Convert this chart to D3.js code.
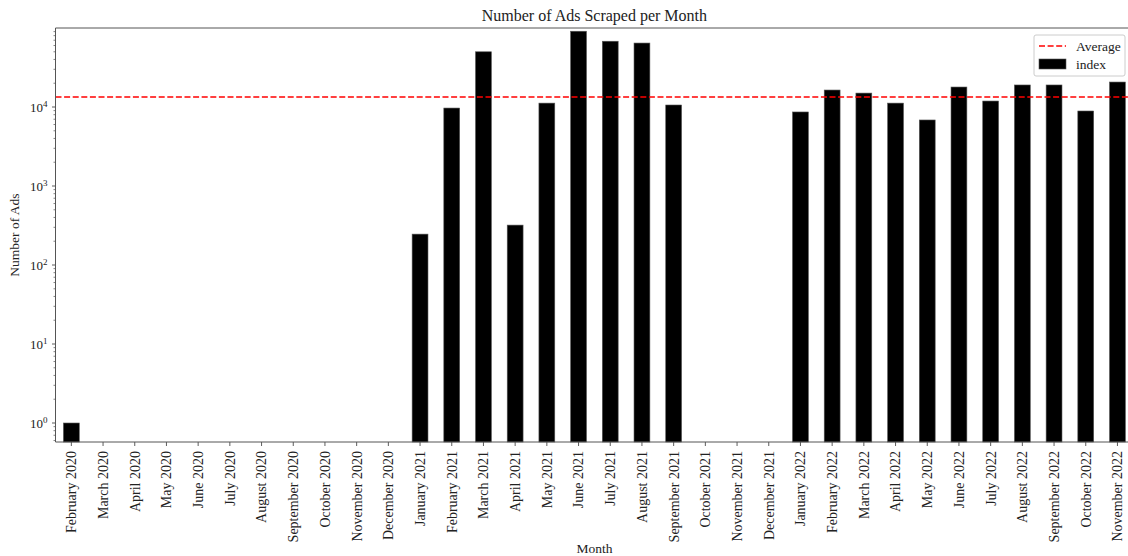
<!DOCTYPE html>
<html>
<head>
<meta charset="utf-8">
<script src="https://cdn.jsdelivr.net/npm/d3@7"></script>
<style>
  body { margin: 0; background: #fff; }
  text { font-family: 'Liberation Serif', serif; fill: #222; }
</style>
</head>
<body>
<div id="chart"></div>
<script>
const months = [
  'February 2020', 'March 2020', 'April 2020', 'May 2020', 'June 2020', 'July 2020',
  'August 2020', 'September 2020', 'October 2020', 'November 2020', 'December 2020',
  'January 2021', 'February 2021', 'March 2021', 'April 2021', 'May 2021', 'June 2021',
  'July 2021', 'August 2021', 'September 2021', 'October 2021', 'November 2021',
  'December 2021', 'January 2022', 'February 2022', 'March 2022', 'April 2022',
  'May 2022', 'June 2022', 'July 2022', 'August 2022', 'September 2022',
  'October 2022', 'November 2022'
]
const ads = [
  1, 0, 0, 0, 0, 0, 0, 0, 0, 0, 0,
  246, 9700, 50000, 320, 11200, 91000, 68000, 64500, 10600, 0, 0, 0,
  8650, 16400, 15000, 11200, 6850, 17900, 11900, 19000, 19000, 8900, 20700
]
const average = 13400
const yTicks = [1, 10, 100, 1000, 10000]

const margin = { top: 28, left: 55.5, right: -5.3, bottom: 114 }
const totalWidth = 1128
const totalHeight = 556
const width = totalWidth - margin.left - margin.right
const height = totalHeight - margin.top - margin.bottom

const svg = d3
  .select('#chart')
  .append('svg')
  .attr('width', totalWidth)
  .attr('height', totalHeight)

const g = svg
  .append('g')
  .attr('transform', 'translate(' + margin.left + ',' + margin.top + ')')

const xPositionScale = d3
  .scaleBand()
  .domain(months)
  .range([0, width])
  .paddingInner(0.5)
  .paddingOuter(0.25)

const yPositionScale = d3
  .scaleLog()
  .domain([0.575, 100000])
  .range([height, 0])

// bars (zero months are not drawn on a log axis)
g.selectAll('.bar')
  .data(months.map((m, i) => ({ month: m, value: ads[i] })).filter(d => d.value > 0))
  .enter()
  .append('rect')
  .attr('class', 'bar')
  .attr('x', d => xPositionScale(d.month))
  .attr('width', xPositionScale.bandwidth())
  .attr('y', d => yPositionScale(d.value))
  .attr('height', d => height - yPositionScale(d.value))
  .attr('fill', '#000')
  .attr('stroke', '#555')
  .attr('stroke-width', 0.6)

// average line
g.append('line')
  .attr('x1', 0)
  .attr('x2', width)
  .attr('y1', yPositionScale(average))
  .attr('y2', yPositionScale(average))
  .attr('stroke', '#ff0000')
  .attr('stroke-width', 1.6)
  .attr('stroke-dasharray', '6,2.6')

// y axis: major ticks with powers of ten, minor ticks in between
const minorTicks = []
for (let p = -1; p < 5; p++) {
  for (let k = 2; k <= 9; k++) {
    const v = k * Math.pow(10, p)
    if (v >= 0.575 && v <= 100000) minorTicks.push(v)
  }
}

const yAxis = g.append('g').attr('class', 'y-axis')

yAxis.selectAll('.minor')
  .data(minorTicks)
  .enter()
  .append('line')
  .attr('x1', -2)
  .attr('x2', 0)
  .attr('y1', d => yPositionScale(d))
  .attr('y2', d => yPositionScale(d))
  .attr('stroke', '#333')
  .attr('stroke-width', 0.6)

yAxis.selectAll('.major')
  .data(yTicks)
  .enter()
  .append('line')
  .attr('x1', -3.5)
  .attr('x2', 0)
  .attr('y1', d => yPositionScale(d))
  .attr('y2', d => yPositionScale(d))
  .attr('stroke', '#333')
  .attr('stroke-width', 0.8)

const yLabels = yAxis.selectAll('.ylabel')
  .data(yTicks)
  .enter()
  .append('text')
  .attr('x', -8)
  .attr('y', d => yPositionScale(d) + 4.5)
  .attr('text-anchor', 'end')
  .attr('font-size', 13)

yLabels.append('tspan').text('10')
yLabels.append('tspan')
  .attr('dy', -5)
  .attr('font-size', 9)
  .text(d => Math.round(Math.log10(d)))

// x axis
const xAxis = d3.axisBottom(xPositionScale).tickSize(4).tickSizeOuter(0)
g.append('g')
  .attr('class', 'x-axis')
  .attr('transform', 'translate(0,' + height + ')')
  .call(xAxis)
  .call(s => s.select('.domain').remove())
  .call(s => s.selectAll('line').attr('stroke', '#333').attr('stroke-width', 0.8))
  .selectAll('text')
  .attr('font-size', 14)
  .attr('font-family', 'Liberation Serif, serif')
  .attr('fill', '#222')
  .attr('text-anchor', 'end')
  .attr('transform', 'rotate(-90)')
  .attr('x', -9)
  .attr('y', 0)
  .attr('dy', '0.35em')

// spines
g.append('line')
  .attr('x1', 0).attr('x2', 0).attr('y1', 0).attr('y2', height)
  .attr('stroke', '#555').attr('stroke-width', 1)
g.append('line')
  .attr('x1', 0).attr('x2', width).attr('y1', 0).attr('y2', 0)
  .attr('stroke', '#555').attr('stroke-width', 1)
g.append('line')
  .attr('x1', 0).attr('x2', width).attr('y1', height).attr('y2', height)
  .attr('stroke', '#555').attr('stroke-width', 1)

// titles
svg.append('text')
  .attr('x', margin.left + width / 2)
  .attr('y', 21)
  .attr('text-anchor', 'middle')
  .attr('font-size', 16)
  .text('Number of Ads Scraped per Month')

svg.append('text')
  .attr('x', margin.left + width / 2)
  .attr('y', 553)
  .attr('text-anchor', 'middle')
  .attr('font-size', 13.5)
  .text('Month')

svg.append('text')
  .attr('transform', 'translate(19,' + (margin.top + 207) + ') rotate(-90)')
  .attr('text-anchor', 'middle')
  .attr('font-size', 13.5)
  .text('Number of Ads')

// legend
const legend = svg.append('g').attr('transform', 'translate(1034,35)')
legend.append('rect')
  .attr('width', 91)
  .attr('height', 41)
  .attr('rx', 2)
  .attr('fill', '#fff')
  .attr('fill-opacity', 0.8)
  .attr('stroke', '#ccc')
legend.append('line')
  .attr('x1', 5).attr('x2', 32).attr('y1', 11).attr('y2', 11)
  .attr('stroke', '#ff0000').attr('stroke-width', 1.6)
  .attr('stroke-dasharray', '6,2.6')
legend.append('text')
  .attr('x', 42).attr('y', 15.5)
  .attr('font-size', 13.5)
  .text('Average')
legend.append('rect')
  .attr('x', 5).attr('y', 24).attr('width', 27).attr('height', 10)
  .attr('fill', '#000').attr('stroke', '#555').attr('stroke-width', 0.6)
legend.append('text')
  .attr('x', 42).attr('y', 34)
  .attr('font-size', 13.5)
  .text('index')
</script>
</body>
</html>
